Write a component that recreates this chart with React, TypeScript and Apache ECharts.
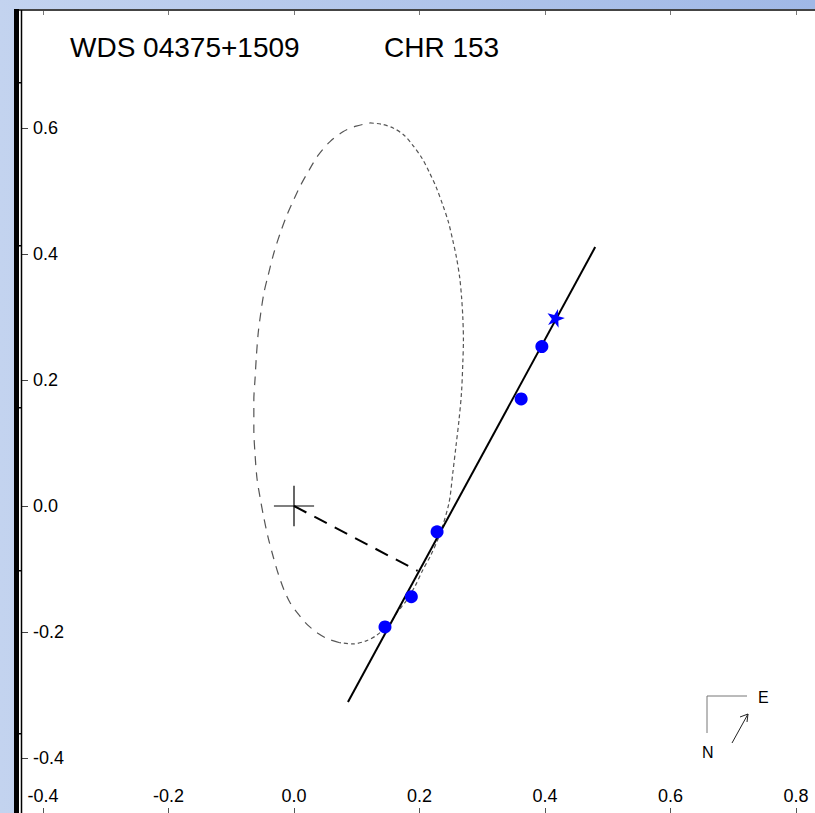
import React, { useEffect, useRef } from "react";
import * as echarts from "echarts";

// Observed positions (arcsec)
const obsX = [0.395, 0.362, 0.228, 0.187, 0.145];
const obsY = [0.253, 0.17, -0.041, -0.144, -0.192];
// Last observation (star)
const lastX = [0.417];
const lastY = [0.299];
// Linear fit line endpoints
const fitX = [0.086, 0.48];
const fitY = [-0.311, 0.411];
// Line from primary to orbit
const nodeX = [0, 0.197];
const nodeY = [0, -0.103];
// Primary star cross arms
const crossHX = [-0.032, 0.032];
const crossHY = [0, 0];
const crossVX = [0, 0];
const crossVY = [-0.032, 0.032];
// Orbit, east (right) half from top to bottom
const orbitRightX = [0.121, 0.14, 0.158, 0.175, 0.189, 0.204, 0.216, 0.227, 0.237, 0.246, 0.253, 0.259, 0.264, 0.267, 0.269, 0.27, 0.269, 0.267, 0.263, 0.258, 0.253, 0.247, 0.232, 0.218, 0.205, 0.193, 0.18, 0.165, 0.153, 0.132, 0.115, 0.094, 0.073];
const orbitRightY = [0.608, 0.606, 0.6, 0.589, 0.573, 0.552, 0.529, 0.505, 0.478, 0.451, 0.422, 0.394, 0.363, 0.332, 0.3, 0.263, 0.227, 0.181, 0.137, 0.094, 0.052, 0.005, -0.046, -0.078, -0.102, -0.127, -0.149, -0.168, -0.186, -0.205, -0.214, -0.219, -0.217];
// Orbit, west (left) half from bottom to top
const orbitLeftX = [0.073, 0.054, 0.038, 0.022, 0.008, -0.006, -0.016, -0.025, -0.033, -0.041, -0.048, -0.054, -0.059, -0.062, -0.064, -0.064, -0.062, -0.06, -0.057, -0.053, -0.048, -0.042, -0.032, -0.022, -0.012, 0.0, 0.011, 0.024, 0.038, 0.057, 0.078, 0.099, 0.121];
const orbitLeftY = [-0.217, -0.211, -0.202, -0.189, -0.173, -0.154, -0.133, -0.108, -0.081, -0.051, -0.019, 0.013, 0.044, 0.081, 0.121, 0.168, 0.203, 0.237, 0.275, 0.306, 0.338, 0.363, 0.402, 0.433, 0.46, 0.487, 0.51, 0.533, 0.556, 0.578, 0.594, 0.603, 0.608];
// Axis ticks
const xMin = -0.4;
const xMax = 0.8;
const yMin = -0.4;
const yMax = 0.6;
const tickStep = 0.2;
const titleLeft = "WDS 04375+1509";
const titleRight = "CHR 153";

const zip = (a: number[], b: number[]) => a.map((v, i) => [v, b[i]]);
const fmt = (v: number) => (Math.round(v * 10) / 10).toFixed(1);
const FONT = "'Liberation Sans', Arial, Helvetica, sans-serif";

export default function App() {
  const ref = useRef<HTMLDivElement>(null);
  useEffect(() => {
    if (!ref.current) return;
    const chart = echarts.init(ref.current, undefined, { renderer: "svg" });
    const frameTicks = [82, 245, 407, 570, 733];
    const lineSeries = (x: number[], y: number[], color: string, width: number, type: any, z = 3) => ({
      type: "line",
      data: zip(x, y),
      symbol: "none",
      clip: false,
      lineStyle: { color, width, type },
      z,
    });
    chart.setOption({
      animation: false,
      backgroundColor: "transparent",
      grid: { left: 43, right: 19, top: 128, bottom: 55, containLabel: false },
      xAxis: [
        {
          type: "value",
          min: xMin,
          max: xMax,
          interval: tickStep,
          position: "bottom",
          offset: 55,
          axisLine: { show: true, onZero: false, lineStyle: { color: "#000", width: 1 } },
          axisTick: { show: true, inside: true, length: 5, lineStyle: { color: "#555" } },
          axisLabel: {
            show: true,
            inside: true,
            margin: 8,
            fontSize: 18,
            color: "#000",
            fontFamily: FONT,
            formatter: fmt,
          },
          splitLine: { show: false },
        },
        {
          type: "value",
          min: xMin,
          max: xMax,
          interval: tickStep,
          position: "top",
          offset: 118,
          axisLine: { show: false, onZero: false },
          axisTick: { show: true, inside: true, length: 5, lineStyle: { color: "#777" } },
          axisLabel: { show: false },
          splitLine: { show: false },
        },
      ],
      yAxis: {
        type: "value",
        min: yMin,
        max: yMax,
        interval: tickStep,
        position: "left",
        offset: 22,
        axisLine: { show: false, onZero: false },
        axisTick: { show: true, inside: true, length: 7, lineStyle: { color: "#444" } },
        axisLabel: {
          show: true,
          inside: true,
          margin: 12,
          fontSize: 18,
          color: "#000",
          fontFamily: FONT,
          formatter: fmt,
        },
        splitLine: { show: false },
      },
      graphic: [
        { type: "rect", z: -10, shape: { x: 14, y: 9, width: 801, height: 804 }, style: { fill: "#fff" } },
        { type: "line", z: 10, shape: { x1: 14, y1: 10, x2: 815, y2: 10 }, style: { stroke: "#444", lineWidth: 2 } },
        { type: "rect", z: 10, shape: { x: 14, y: 9, width: 5, height: 804 }, style: { fill: "#000" } },
        { type: "line", z: 10, shape: { x1: 21.5, y1: 10, x2: 21.5, y2: 813 }, style: { stroke: "#000", lineWidth: 1.5 } },
        ...frameTicks.map((y) => ({
          type: "rect",
          z: 11,
          shape: { x: 14, y, width: 8, height: 1.5 },
          style: { fill: "#000" },
        })),
        {
          type: "text",
          x: 70,
          y: 47,
          style: { text: titleLeft, font: `28px ${FONT}`, fill: "#000", textVerticalAlign: "middle" },
        },
        {
          type: "text",
          x: 384,
          y: 47,
          style: { text: titleRight, font: `28px ${FONT}`, fill: "#000", textVerticalAlign: "middle" },
        },
        {
          type: "polyline",
          shape: { points: [[707, 733], [707, 696], [747, 696]] },
          style: { stroke: "#777", lineWidth: 1, fill: "none" },
        },
        {
          type: "line",
          shape: { x1: 732, y1: 743, x2: 748, y2: 714 },
          style: { stroke: "#222", lineWidth: 1 },
        },
        {
          type: "polyline",
          shape: { points: [[740, 717], [748, 714], [747, 722]] },
          style: { stroke: "#222", lineWidth: 1, fill: "none" },
        },
        {
          type: "text",
          x: 758,
          y: 697,
          style: { text: "E", font: `16px ${FONT}`, fill: "#000", textVerticalAlign: "middle" },
        },
        {
          type: "text",
          x: 702,
          y: 752,
          style: { text: "N", font: `16px ${FONT}`, fill: "#000", textVerticalAlign: "middle" },
        },
      ],
      series: [
        {
          type: "line",
          data: zip(orbitRightX, orbitRightY),
          smooth: 0.3,
          symbol: "none",
          clip: false,
          lineStyle: { color: "#555", width: 1.2, type: [4, 3] },
          z: 2,
        },
        {
          type: "line",
          data: zip(orbitLeftX, orbitLeftY),
          smooth: 0.3,
          symbol: "none",
          clip: false,
          lineStyle: { color: "#555", width: 1.2, type: [9, 7] },
          z: 2,
        },
        lineSeries(fitX, fitY, "#000", 2, "solid"),
        lineSeries(nodeX, nodeY, "#000", 2, [14, 9]),
        lineSeries(crossHX, crossHY, "#000", 1.2, "solid", 5),
        lineSeries(crossVX, crossVY, "#000", 1.2, "solid", 5),
        {
          type: "scatter",
          data: zip(obsX, obsY),
          symbol: "circle",
          symbolSize: 13,
          clip: false,
          itemStyle: { color: "#0000ff", opacity: 1 },
          z: 4,
        },
        {
          type: "scatter",
          data: zip(lastX, lastY),
          symbol: "path://M50,0 L61,35 L98,35 L68,57 L79,91 L50,70 L21,91 L32,57 L2,35 L39,35 Z",
          symbolSize: 18,
          symbolRotate: -15,
          clip: false,
          itemStyle: { color: "#0000ff", opacity: 1 },
          z: 4,
        },
      ],
    });
    return () => chart.dispose();
  }, []);
  return (
    <div
      style={{
        position: "fixed",
        left: 0,
        top: 0,
        width: 815,
        height: 813,
        background: "linear-gradient(to right, #c3d3ef, #a0b8e6)",
      }}
    >
      <div ref={ref} style={{ width: 815, height: 813 }} />
    </div>
  );
}
